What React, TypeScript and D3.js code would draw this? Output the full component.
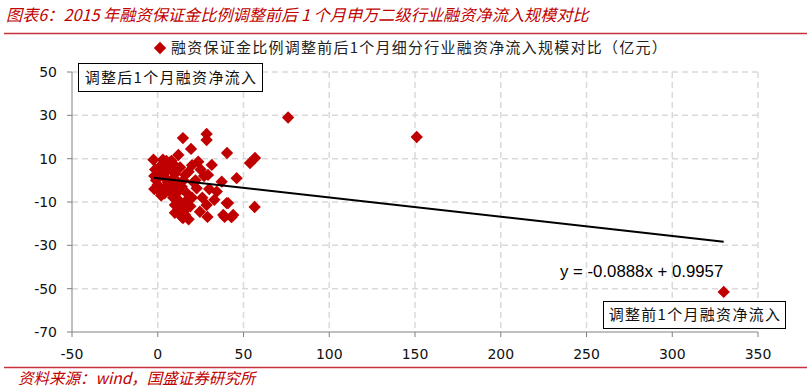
import React from "react";
import * as d3 from "d3";

const titleText = "图表6：2015 年融资保证金比例调整前后 1 个月申万二级行业融资净流入规模对比";
const legendText = "融资保证金比例调整前后1个月细分行业融资净流入规模对比（亿元）";
const sourceText = "资料来源：wind，国盛证券研究所";
const labelAfter = "调整后1个月融资净流入";
const labelBefore = "调整前1个月融资净流入";
const equationText = "y = -0.0888x + 0.9957";

const xTicks = [-50, 0, 50, 100, 150, 200, 250, 300, 350];
const yTicks = [50, 30, 10, -10, -30, -50, -70];

// x: flow before adjustment, y: flow after adjustment (亿元)
const xValues = [
  -2.5, -1.5, -2, -1, 0, 1, 2, 3, 4, 5, 6, 7, 8, 9, 10, 11, 12, 8, 6, -2, 1, 3, 5,
  9, 10, 11, 12, 13, 14, 15.5, 16, 17, 18, 14, 12, 19, 20, 16, 18, 20, 22, 22.7, 24.6,
  26, 28.5, 25, 23.6, 27, 29.3, 31.5, 30, 33, 34.4, 37.3, 38.2, 40.2, 44, 46, 40.4,
  56.7, 53.8, 14.7, 19.4, 28.5, 28.5, 14.7, 29, 39, 43, 41, 56.5, 4, 7, 15, 13,
  17, 21, 10, 2, 11, 16, 8, 76, 151, 330,
];
const yValues = [
  9.5, 5, 2, 0, -2, 4, 7, 9.5, 1.5, -3, 5, 8, 0, -4, 3, 6, 11.7, 9, -1, -4, -5, 2, 9,
  -8, -11.4, -6, -9, -13, -16.8, -14, -10, -6, -18, -3, -1, -12, -8, 2.5, 4, 7, 0, -3.7, -14.5,
  -8, -11.4, 5, 8.6, 2, 2.5, 7.1, -4, -9, -5.2, -0.6, -16, -10.5, -16, 1, 12.6,
  10.3, 8, 19.5, 14.5, 21.4, 18.6, -17.4, -16.9, -16.9, -17, -10.5, -12.3, -6, -2, 0, 6,
  -12, -1, -15, -7, -4, -16, -6, 29, 20, -51.5,
];
const trendSlope = -0.0888;
const trendIntercept = 0.9957;

const RED = "#C00000";
const CJK = "'Noto Sans CJK SC', 'Noto Sans', sans-serif";
const NUM = "'DejaVu Sans', 'Noto Sans', sans-serif";

export default function App() {
  const W = 811;
  const H = 390;
  const left = 72, right = 758, top = 72, bottom = 332;
  const x = d3.scaleLinear().domain([-50, 350]).range([left, right]);
  const y = d3.scaleLinear().domain([-70, 50]).range([bottom, top]);
  const points = xValues.map((v, i) => [v, yValues[i]] as [number, number]);
  const xMin = d3.min(xValues) as number;
  const xMax = d3.max(xValues) as number;
  const diamond = d3.symbol().type(d3.symbolSquare).size(76)();

  return (
    <svg width={W} height={H} style={{ position: "absolute", left: 0, top: 0, background: "#fff" }}>
      <rect x={0} y={0} width={W} height={H} fill="#fff" />
      {/* title */}
      <text x={6} y={21} fontFamily={CJK} fontStyle="italic" fontSize={16.2} fill={RED}>
        {titleText}
      </text>
      <line x1={4} x2={807} y1={33.5} y2={33.5} stroke="#C8323C" strokeWidth={1.5} />
      {/* legend */}
      <path d={diamond} transform={`translate(160,48) rotate(45)`} fill={RED} />
      <text x={171} y={53} fontFamily={CJK} fontSize={15} letterSpacing={1.25} fill="#222">
        {legendText}
      </text>
      {/* gridlines */}
      {yTicks.filter((t) => t !== -70).map((t) => (
        <line key={"gy" + t} x1={left} x2={right} y1={y(t)} y2={y(t)} stroke="#D9D9D9" strokeWidth={1.5} strokeDasharray="6,4" />
      ))}
      {xTicks.filter((t) => t !== -50).map((t) => (
        <line key={"gx" + t} x1={x(t)} x2={x(t)} y1={top} y2={bottom} stroke="#D9D9D9" strokeWidth={1.5} strokeDasharray="6,4" />
      ))}
      {/* axes */}
      <line x1={left} x2={left} y1={top} y2={bottom} stroke="#808080" strokeWidth={1} />
      <line x1={left} x2={right} y1={bottom} y2={bottom} stroke="#808080" strokeWidth={1} />
      {yTicks.map((t) => (
        <g key={"ty" + t}>
          <line x1={left - 5} x2={left} y1={y(t)} y2={y(t)} stroke="#808080" />
          <text x={left - 15} y={y(t) + 5} textAnchor="end" fontFamily={NUM} fontSize={14} fill="#111">
            {t}
          </text>
        </g>
      ))}
      {xTicks.map((t) => (
        <g key={"tx" + t}>
          <line x1={x(t)} x2={x(t)} y1={bottom} y2={bottom + 5} stroke="#808080" />
          <text x={x(t)} y={bottom + 27} textAnchor="middle" fontFamily={NUM} fontSize={14} fill="#111">
            {t}
          </text>
        </g>
      ))}
      {/* points */}
      {points.map(([px, py], i) => (
        <path key={"p" + i} d={diamond} transform={`translate(${x(px)},${y(py)}) rotate(45)`} fill={RED} />
      ))}
      {/* trendline */}
      <line
        x1={x(xMin)}
        y1={y(trendSlope * xMin + trendIntercept)}
        x2={x(xMax)}
        y2={y(trendSlope * xMax + trendIntercept)}
        stroke="#000"
        strokeWidth={2}
      />
      <text x={560} y={277} fontFamily="'Liberation Sans', 'Noto Sans', sans-serif" fontSize={16.8} fill="#000">
        {equationText}
      </text>
      {/* label boxes */}
      <rect x={78.5} y={63.5} width={184} height={28} fill="#fff" stroke="#000" strokeWidth={1} />
      <text x={171} y={83} textAnchor="middle" fontFamily={CJK} fontSize={15} letterSpacing={1.3} fill="#111">
        {labelAfter}
      </text>
      <rect x={603.5} y={301.5} width={182} height={27} fill="#fff" stroke="#000" strokeWidth={1} />
      <text x={695} y={320} textAnchor="middle" fontFamily={CJK} fontSize={15} letterSpacing={1.3} fill="#111">
        {labelBefore}
      </text>
      {/* source */}
      <line x1={4} x2={807} y1={367.5} y2={367.5} stroke="#C8323C" strokeWidth={1.5} />
      <text x={18} y={384} fontFamily={CJK} fontStyle="italic" fontSize={15.5} fill={RED}>
        {sourceText}
      </text>
    </svg>
  );
}
